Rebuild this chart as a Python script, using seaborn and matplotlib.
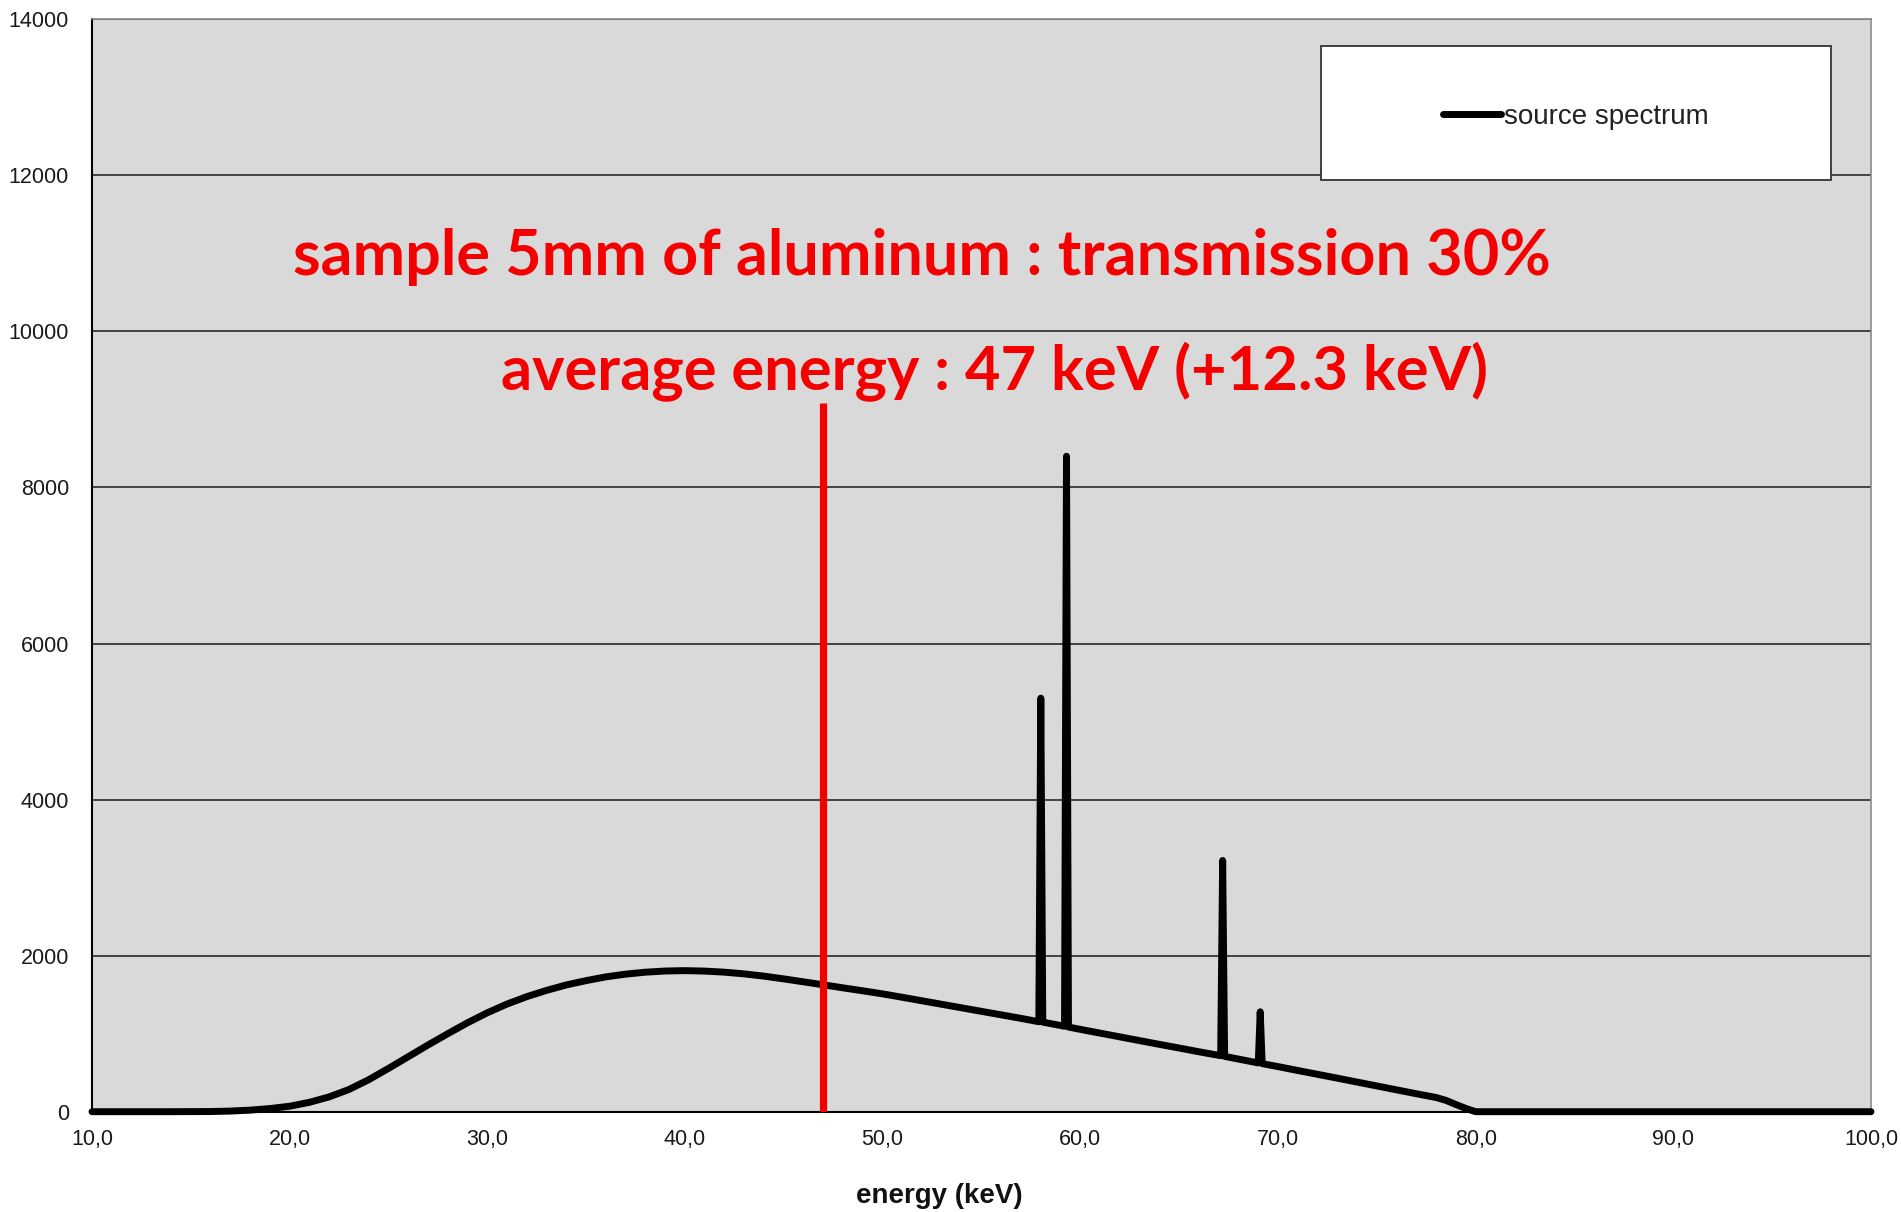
import matplotlib
matplotlib.use("Agg")
import matplotlib.pyplot as plt
import seaborn as sns
import pandas as pd
from matplotlib.patches import Rectangle

# ---------------- data ----------------
energy = [10, 12, 14, 16, 17, 18, 19, 20, 21, 22, 23, 24, 25, 26, 27, 28, 29, 30,
          31, 32, 33, 34, 35, 36, 37, 38, 39, 40, 41, 42, 43, 44, 45, 46, 47, 48,
          49, 50, 51, 52, 53, 54, 55, 56, 57, 57.9, 58.0, 58.1, 59.2, 59.3, 59.4,
          60, 61, 62, 63, 64, 65, 66, 67.1, 67.2, 67.3, 69.0, 69.1, 69.2, 70, 71,
          72, 73, 74, 75, 76, 77, 78, 78.5, 79, 79.5, 80, 85, 90, 95, 100]
counts = [0, 0, 0, 2, 8, 20, 40, 70, 120, 190, 285, 410, 555, 705, 855, 1000, 1140, 1268,
          1380, 1475, 1555, 1625, 1680, 1728, 1763, 1788, 1803, 1808, 1802, 1788, 1766, 1737, 1702, 1664, 1626, 1587,
          1549, 1510, 1466, 1421, 1376, 1331, 1286, 1241, 1196, 1153, 5300, 1148, 1095, 8400, 1085,
          1055, 1007, 959, 911, 863, 816, 768, 718, 3220, 709, 625, 1280, 616, 578, 528,
          479, 430, 380, 330, 280, 230, 182, 145, 92, 42, 0, 0, 0, 0, 0]
series_label = "source spectrum"

average_energy = 47.0
average_line_top = 9080

xticks = [10, 20, 30, 40, 50, 60, 70, 80, 90, 100]
xtick_labels = ["10,0", "20,0", "30,0", "40,0", "50,0", "60,0", "70,0", "80,0", "90,0", "100,0"]
yticks = [0, 2000, 4000, 6000, 8000, 10000, 12000, 14000]
ytick_labels = ["0", "2000", "4000", "6000", "8000", "10000", "12000", "14000"]

title1 = "sample 5mm of aluminum : transmission 30%"
title2 = "average energy : 47 keV (+12.3 keV)"
xlabel = "energy (keV)"

# ---------------- figure ----------------
sns.set_style("white")
plt.rcParams["font.family"] = ["Liberation Sans", "DejaVu Sans"]

W, H = 1901, 1212
fig = plt.figure(figsize=(W / 100, H / 100), dpi=100)
ax_left, ax_right, ax_top, ax_bottom = 92, 1871, 19.3, 1111.7
ax = fig.add_axes([ax_left / W, 1 - ax_bottom / H, (ax_right - ax_left) / W, (ax_bottom - ax_top) / H])
ax.set_facecolor("#d9d9d9")

df = pd.DataFrame({"energy": energy, "counts": counts})
sns.lineplot(data=df, x="energy", y="counts", ax=ax, color="black", lw=5,
             estimator=None, label=series_label, legend=False, zorder=3)
for ln in ax.lines:
    ln.set_solid_capstyle("round")
    ln.set_solid_joinstyle("round")
    ln.set_clip_on(False)

# average energy marker
ax.plot([average_energy, average_energy], [0, average_line_top], color="#f20000", lw=5.2,
        solid_capstyle="butt", zorder=4)

ax.set_xlim(10, 100)
ax.set_ylim(0, 14000)
ax.set_xticks(xticks)
ax.set_xticklabels(xtick_labels)
ax.set_yticks(yticks)
ax.set_yticklabels(ytick_labels)
ax.tick_params(axis="both", direction="out", length=5, width=1.2, color="black",
               labelsize=15.5, labelcolor="#1a1a1a")
ax.tick_params(axis="y", pad=11.5)
ax.tick_params(axis="x", pad=7.5)

ax.set_axisbelow(True)
ax.yaxis.grid(True, color="#1a1a1a", lw=1.1)
ax.xaxis.grid(False)

for side in ["left", "bottom"]:
    ax.spines[side].set_color("black")
    ax.spines[side].set_linewidth(1.5)
for side in ["top", "right"]:
    ax.spines[side].set_color("#8a8a8a")
    ax.spines[side].set_linewidth(1.2)

ax.set_xlabel(xlabel, fontsize=20, fontweight="bold", color="#111111", va="center")
ax.set_ylabel("")
ax.xaxis.set_label_coords((939.5 - ax_left) / (ax_right - ax_left), (ax_bottom - 1196) / (ax_bottom - ax_top))

# annotation texts
ax.text(51.96, 10723, title1, ha="center", va="baseline", fontsize=45.3, fontweight="bold",
        color="#f50000", family=["Lato", "DejaVu Sans"], zorder=6)
ax.text(55.67, 9244, title2, ha="center", va="baseline", fontsize=44.2, fontweight="bold",
        color="#f50000", family=["Lato", "DejaVu Sans"], zorder=6)

# legend box
bx0 = (1321 - ax_left) / (ax_right - ax_left)
bx1 = (1831 - ax_left) / (ax_right - ax_left)
by0 = (ax_bottom - 180) / (ax_bottom - ax_top)
by1 = (ax_bottom - 46) / (ax_bottom - ax_top)
ax.add_patch(Rectangle((bx0, by0), bx1 - bx0, by1 - by0, transform=ax.transAxes,
                       facecolor="white", edgecolor="#333333", lw=1.3, zorder=5))
leg_dy = 3.6 / (ax_bottom - ax_top)
leg = ax.legend(loc="center", bbox_to_anchor=((bx0 + bx1) / 2, (by0 + by1) / 2 - leg_dy),
                frameon=False, fontsize=20, handlelength=2.1, handletextpad=0.12)
leg.set_zorder(7)
for t in leg.get_texts():
    t.set_color("#222222")
for h in leg.legend_handles:
    h.set_solid_capstyle("round")
    h.set_linewidth(5)

fig.savefig("out.png", dpi=100, facecolor="white")
